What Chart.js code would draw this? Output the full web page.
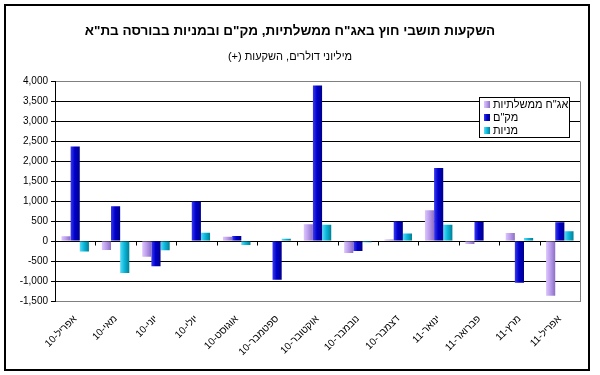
<!DOCTYPE html>
<html>
<head>
<meta charset="utf-8">
<script src="https://cdn.jsdelivr.net/npm/chart.js@4/dist/chart.umd.min.js"></script>
<style>
  html, body { margin: 0; padding: 0; background: #fff; }
  #wrap { width: 600px; height: 375px; }
</style>
</head>
<body>
<div id="wrap"><canvas id="chart" width="600" height="375"></canvas></div>
<script>
// נתונים
const months = ['אפריל-10', 'מאי-10', 'יוני-10', 'יולי-10', 'אוגוסט-10', 'ספטמבר-10', 'אוקטובר-10',
                'נובמבר-10', 'דצמבר-10', 'ינואר-11', 'פברואר-11', 'מרץ-11', 'אפריל-11'];
const govBonds = [120, -220, -390, 0, 110, 0, 420, -300, 40, 770, -70, 200, -1370];
const makam    = [2370, 870, -630, 990, 130, -970, 3900, -250, 490, 1830, 480, -1040, 470];
const stocks   = [-260, -800, -230, 210, -100, 60, 410, -30, 190, 410, -10, 80, 250];
const seriesNames = ['אג"ח ממשלתיות', 'מק"ם', 'מניות'];
const yMin = -1500, yMax = 4000, yStep = 500;

const titleText = 'השקעות תושבי חוץ באג"ח ממשלתיות, מק"ם ובמניות בבורסה בת"א';
const subtitleText = 'מיליוני דולרים, השקעות (+)';

// עטיפה בכיוון ימין-לשמאל
const rtl = s => '\u202B' + s + '\u202C';

// צבעי הדרגה לכל סדרה (בהיר משמאל, כהה מימין)
const shades = [
    ['#dcc6fb', '#bc9eee', '#8c6ec2'],
    ['#3a3af0', '#0000cc', '#00008a'],
    ['#5adcf6', '#0cb8dc', '#007f94']
];

const gradientBars = {
    id: 'gradientBars',
    beforeDatasetsDraw(chart) {
        const ctx = chart.ctx;
        chart.data.datasets.forEach((ds, i) => {
            const meta = chart.getDatasetMeta(i);
            meta.data.forEach(bar => {
                const g = ctx.createLinearGradient(bar.x - bar.width / 2, 0, bar.x + bar.width / 2, 0);
                g.addColorStop(0, shades[i][0]);
                g.addColorStop(0.45, shades[i][1]);
                g.addColorStop(1, shades[i][2]);
                bar.options = Object.assign({}, bar.options, { backgroundColor: g });
            });
        });
    }
};

// מסגרת ימנית, שנתות בקו האפס ומסגרת חיצונית
const extras = {
    id: 'extras',
    beforeDatasetsDraw(chart) {
        const { ctx, chartArea: a, scales: { x, y } } = chart;
        ctx.save();
        ctx.strokeStyle = '#808080';
        ctx.lineWidth = 1;
        ctx.beginPath();
        ctx.moveTo(a.right + 0.5, a.top);
        ctx.lineTo(a.right + 0.5, a.bottom);
        ctx.stroke();
        const y0 = Math.round(y.getPixelForValue(0)) + 0.5;
        ctx.strokeStyle = '#000';
        ctx.beginPath();
        for (let i = 0; i < months.length - 1; i++) {
            const bx = Math.round((x.getPixelForValue(i) + x.getPixelForValue(i + 1)) / 2) + 0.5;
            ctx.moveTo(bx, y0);
            ctx.lineTo(bx, y0 + 4);
        }
        ctx.stroke();
        ctx.restore();
    },
    afterDraw(chart) {
        const ctx = chart.ctx;
        ctx.save();
        ctx.strokeStyle = '#000';
        ctx.lineWidth = 2;
        ctx.strokeRect(5, 5, 584, 365);
        ctx.restore();
    }
};

// מקרא במסגרת בתוך אזור הגרף
const boxLegend = {
    id: 'boxLegend',
    afterDatasetsDraw(chart) {
        const ctx = chart.ctx;
        const left = 479, top = 97, w = 90, h = 40;
        ctx.save();
        ctx.fillStyle = '#fff';
        ctx.fillRect(left, top, w, h);
        ctx.strokeStyle = '#000';
        ctx.lineWidth = 1;
        ctx.strokeRect(left + 0.5, top + 0.5, w, h);
        ctx.font = '11px "Liberation Sans", Arial, sans-serif';
        ctx.textBaseline = 'middle';
        ctx.textAlign = 'left';
        chart.data.datasets.forEach((ds, i) => {
            const cy = top + 7.5 + i * 13;
            const g = ctx.createLinearGradient(left + 5, 0, left + 11, 0);
            g.addColorStop(0, shades[i][0]);
            g.addColorStop(0.5, shades[i][1]);
            g.addColorStop(1, shades[i][2]);
            ctx.fillStyle = g;
            ctx.fillRect(left + 5, cy - 3.5, 6, 7);
            ctx.fillStyle = '#000';
            ctx.fillText(rtl(ds.label), left + 14, cy);
        });
        ctx.restore();
    }
};

Chart.defaults.color = '#000';
Chart.defaults.font.family = '"Liberation Sans", Arial, sans-serif';

new Chart(document.getElementById('chart'), {
    type: 'bar',
    data: {
        labels: months.map(rtl),
        datasets: [
            { label: seriesNames[0], data: govBonds },
            { label: seriesNames[1], data: makam },
            { label: seriesNames[2], data: stocks }
        ]
    },
    options: {
        responsive: false,
        animation: false,
        events: [],
        layout: { padding: { left: 0, right: 20, top: 0, bottom: 0 } },
        datasets: {
            bar: { categoryPercentage: 0.68, barPercentage: 1.0, borderWidth: 0 }
        },
        plugins: {
            legend: { display: false },
            tooltip: { enabled: false },
            title: {
                display: true,
                text: rtl(titleText),
                font: { size: 13.5, weight: 'bold' },
                padding: { top: 23, bottom: 9 }
            },
            subtitle: {
                display: true,
                text: rtl(subtitleText),
                font: { size: 11 },
                padding: { top: 2, bottom: 18 }
            }
        },
        scales: {
            x: {
                grid: { display: false },
                border: { color: '#808080' },
                ticks: {
                    autoSkip: false,
                    maxRotation: 45,
                    minRotation: 45,
                    padding: 4,
                    font: { size: 10 }
                },
                afterFit(scale) { scale.height = 74; }
            },
            y: {
                min: yMin,
                max: yMax,
                ticks: {
                    stepSize: yStep,
                    padding: 3,
                    font: { size: 10 },
                    callback: v => v.toLocaleString('en-US')
                },
                grid: {
                    color: c => (c.tick && (c.tick.value === yMax || c.tick.value === yMin)) ? '#808080' : '#000',
                    tickColor: '#000',
                    tickLength: 4
                },
                border: { color: '#000' },
                afterFit(scale) { scale.width = 55; }
            }
        }
    },
    plugins: [gradientBars, extras, boxLegend]
});
</script>
</body>
</html>
